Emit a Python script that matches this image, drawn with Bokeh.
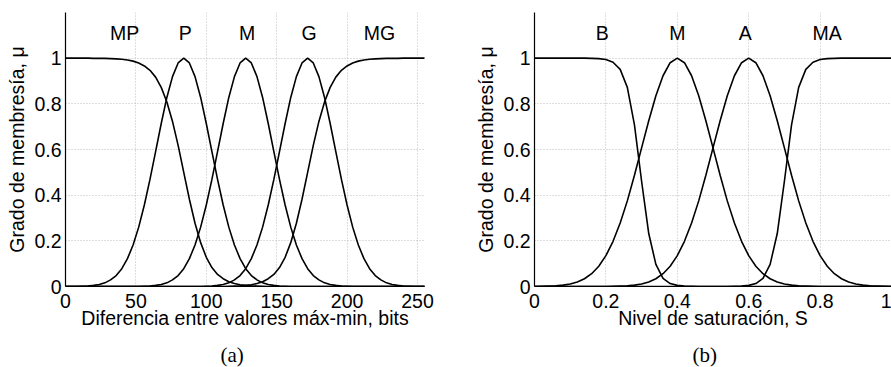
from bokeh.plotting import figure
from bokeh.models import Range1d, FixedTicker, Title
from bokeh.layouts import row
from bokeh.embed import file_html
from bokeh.resources import INLINE
from bokeh.core.properties import value

# ---------------- data: panel (a) ----------------
x_bits = [0, 4, 8, 12, 16, 20, 24, 28, 32, 36, 40, 44, 48, 52, 56, 60, 64, 68, 72, 76,
          80, 84, 88, 92, 96, 100, 104, 108, 112, 116, 120, 124, 128, 132, 136, 140, 144,
          148, 152, 156, 160, 164, 168, 172, 176, 180, 184, 188, 192, 196, 200, 204, 208,
          212, 216, 220, 224, 228, 232, 236, 240, 244, 248, 252, 256]

mu_MP = [1.000, 1.000, 1.000, 1.000, 1.000, 0.999, 0.999, 0.999, 0.998, 0.997, 0.995, 0.992,
         0.987, 0.979, 0.966, 0.947, 0.917, 0.872, 0.808, 0.723, 0.618, 0.500, 0.382, 0.277,
         0.192, 0.128, 0.083, 0.053, 0.034, 0.021, 0.013, 0.008, 0.005, 0.003, 0.002, 0.001,
         0, 0, 0, 0, 0, 0, 0, 0, 0, 0, 0, 0, 0, 0, 0, 0, 0, 0, 0, 0, 0, 0, 0, 0, 0, 0, 0, 0, 0]

mu_P = [0, 0, 0, 0.001, 0.002, 0.005, 0.009, 0.016, 0.029, 0.048, 0.078, 0.122, 0.182, 0.260,
        0.357, 0.469, 0.591, 0.714, 0.828, 0.919, 0.979, 1.000, 0.979, 0.919, 0.828, 0.714,
        0.591, 0.469, 0.357, 0.260, 0.182, 0.122, 0.078, 0.048, 0.029, 0.016, 0.009, 0.005,
        0.002, 0.001, 0, 0, 0, 0, 0, 0, 0, 0, 0, 0, 0, 0, 0, 0, 0, 0, 0, 0, 0, 0, 0, 0, 0, 0, 0]

mu_M = [0, 0, 0, 0, 0, 0, 0, 0, 0, 0, 0, 0, 0, 0, 0.001, 0.002, 0.005, 0.009, 0.016, 0.029,
        0.048, 0.078, 0.122, 0.182, 0.260, 0.357, 0.469, 0.591, 0.714, 0.828, 0.919, 0.979,
        1.000, 0.979, 0.919, 0.828, 0.714, 0.591, 0.469, 0.357, 0.260, 0.182, 0.122, 0.078,
        0.048, 0.029, 0.016, 0.009, 0.005, 0.002, 0.001, 0, 0, 0, 0, 0, 0, 0, 0, 0, 0, 0, 0, 0, 0]

mu_G = [0, 0, 0, 0, 0, 0, 0, 0, 0, 0, 0, 0, 0, 0, 0, 0, 0, 0, 0, 0, 0, 0, 0, 0, 0,
        0.001, 0.002, 0.005, 0.009, 0.016, 0.029, 0.048, 0.078, 0.122, 0.182, 0.260, 0.357,
        0.469, 0.591, 0.714, 0.828, 0.919, 0.979, 1.000, 0.979, 0.919, 0.828, 0.714, 0.591,
        0.469, 0.357, 0.260, 0.182, 0.122, 0.078, 0.048, 0.029, 0.016, 0.009, 0.005, 0.002,
        0.001, 0, 0, 0]

mu_MG = [0, 0, 0, 0, 0, 0, 0, 0, 0, 0, 0, 0, 0, 0, 0, 0, 0, 0, 0, 0, 0, 0, 0, 0, 0, 0, 0, 0, 0,
         0.001, 0.002, 0.003, 0.005, 0.008, 0.013, 0.021, 0.034, 0.053, 0.083, 0.128, 0.192,
         0.277, 0.382, 0.500, 0.618, 0.723, 0.808, 0.872, 0.917, 0.947, 0.966, 0.979, 0.987,
         0.992, 0.995, 0.997, 0.998, 0.999, 0.999, 0.999, 1.000, 1.000, 1.000, 1.000, 1.000]

terms_a = ["MP", "P", "M", "G", "MG"]
terms_a_x = [42, 85, 129, 173, 223]
ticks_a_x = [0, 50, 100, 150, 200, 250]

# ---------------- data: panel (b) ----------------
x_sat = [0.00, 0.02, 0.04, 0.06, 0.08, 0.10, 0.12, 0.14, 0.16, 0.18, 0.20, 0.22, 0.24, 0.26,
         0.28, 0.30, 0.32, 0.34, 0.36, 0.38, 0.40, 0.42, 0.44, 0.46, 0.48, 0.50, 0.52, 0.54,
         0.56, 0.58, 0.60, 0.62, 0.64, 0.66, 0.68, 0.70, 0.72, 0.74, 0.76, 0.78, 0.80, 0.82,
         0.84, 0.86, 0.88, 0.90, 0.92, 0.94, 0.96, 0.98, 1.00]

mu_B = [1.000, 1.000, 1.000, 1.000, 1.000, 1.000, 1.000, 1.000, 0.999, 0.998, 0.994, 0.982,
        0.951, 0.872, 0.708, 0.461, 0.232, 0.097, 0.036, 0.013, 0.005, 0.002, 0.001,
        0, 0, 0, 0, 0, 0, 0, 0, 0, 0, 0, 0, 0, 0, 0, 0, 0, 0, 0, 0, 0, 0, 0, 0, 0, 0, 0, 0]

mu_Mb = [0.000, 0.001, 0.002, 0.003, 0.006, 0.011, 0.020, 0.034, 0.056, 0.089, 0.135, 0.198,
         0.278, 0.375, 0.487, 0.607, 0.726, 0.835, 0.923, 0.980, 1.000, 0.980, 0.923, 0.835,
         0.726, 0.607, 0.487, 0.375, 0.278, 0.198, 0.135, 0.089, 0.056, 0.034, 0.020, 0.011,
         0.006, 0.003, 0.002, 0.001, 0.000, 0, 0, 0, 0, 0, 0, 0, 0, 0, 0]

mu_A = [0, 0, 0, 0, 0, 0, 0, 0, 0, 0, 0.000, 0.001, 0.002, 0.003, 0.006, 0.011, 0.020, 0.034,
        0.056, 0.089, 0.135, 0.198, 0.278, 0.375, 0.487, 0.607, 0.726, 0.835, 0.923, 0.980,
        1.000, 0.980, 0.923, 0.835, 0.726, 0.607, 0.487, 0.375, 0.278, 0.198, 0.135, 0.089,
        0.056, 0.034, 0.020, 0.011, 0.006, 0.003, 0.002, 0.001, 0.000]

mu_MA = [0, 0, 0, 0, 0, 0, 0, 0, 0, 0, 0, 0, 0, 0, 0, 0, 0, 0, 0, 0, 0, 0, 0, 0, 0, 0, 0, 0,
         0.001, 0.002, 0.005, 0.013, 0.036, 0.097, 0.232, 0.461, 0.708, 0.872, 0.951, 0.982,
         0.994, 0.998, 0.999, 1.000, 1.000, 1.000, 1.000, 1.000, 1.000, 1.000, 1.000]

terms_b = ["B", "M", "A", "MA"]
terms_b_x = [0.19, 0.40, 0.59, 0.82]
ticks_b_x = [0, 0.2, 0.4, 0.6, 0.8, 1]

ticks_y = [0, 0.2, 0.4, 0.6, 0.8, 1]
term_y = 1.11

FONT = "Liberation Sans"
FS = "19.5px"


def style(p, xticks, xlabel, ylabel, caption, cap_offset):
    p.outline_line_color = None
    p.xaxis.ticker = FixedTicker(ticks=xticks)
    p.yaxis.ticker = FixedTicker(ticks=ticks_y)
    p.xgrid.ticker = FixedTicker(ticks=xticks)
    p.ygrid.ticker = FixedTicker(ticks=ticks_y)
    p.xaxis.major_label_overrides = {t: ("%g" % t) for t in xticks}
    p.yaxis.major_label_overrides = {t: ("%g" % t) for t in ticks_y}
    for ax in (p.xaxis, p.yaxis):
        ax.major_tick_line_color = None
        ax.minor_tick_line_color = None
        ax.major_tick_out = 0
        ax.major_tick_in = 0
        ax.minor_tick_out = 0
        ax.minor_tick_in = 0
        ax.axis_line_color = "black"
        ax.axis_line_width = 1.2
        ax.major_label_text_font = FONT
        ax.major_label_text_font_size = FS
        ax.major_label_text_color = "black"
        ax.axis_label_text_font = FONT
        ax.axis_label_text_font_size = FS
        ax.axis_label_text_font_style = "normal"
        ax.axis_label_text_color = "black"
    p.xaxis.axis_label = xlabel
    p.yaxis.axis_label = ylabel
    p.xaxis.major_label_standoff = 7
    p.xaxis.axis_label_standoff = -4
    p.yaxis.major_label_standoff = 4
    p.yaxis.axis_label_standoff = 3
    for g in (p.xgrid, p.ygrid):
        g.grid_line_color = "#bdbdbd"
        g.grid_line_dash = "1 2"
        g.grid_line_width = 1
    p.add_layout(Title(text=caption, align="left", offset=cap_offset, standoff=19,
                       text_font="Liberation Serif", text_font_size="21px",
                       text_font_style="normal", text_color="black"), "below")


p1 = figure(frame_width=359, frame_height=274, x_range=Range1d(0, 255), y_range=Range1d(0, 1.2),
            min_border_left=65, min_border_right=16, min_border_top=12, min_border_bottom=0,
            output_backend="svg", toolbar_location=None)
style(p1, ticks_a_x, "Diferencia entre valores máx-min, bits", "Grado de membresía, μ", "(a)", 155)
for ys in (mu_MP, mu_P, mu_M, mu_G, mu_MG):
    p1.line(x_bits, ys, line_color="black", line_width=1.6)
p1.text(x=terms_a_x, y=[term_y] * len(terms_a), text=terms_a, text_font=value(FONT),
        text_font_size=value(FS), text_align="center", text_baseline="middle", text_color="black")

p2 = figure(frame_width=357, frame_height=274, x_range=Range1d(0, 1), y_range=Range1d(0, 1.2),
            min_border_left=94, min_border_right=0, min_border_top=12, min_border_bottom=0,
            output_backend="svg", toolbar_location=None)
style(p2, ticks_b_x, "Nivel de saturación, S", "Grado de membresía, μ", "(b)", 158)
for ys in (mu_B, mu_Mb, mu_A, mu_MA):
    p2.line(x_sat, ys, line_color="black", line_width=1.6)
p2.text(x=terms_b_x, y=[term_y] * len(terms_b), text=terms_b, text_font=value(FONT),
        text_font_size=value(FS), text_align="center", text_baseline="middle", text_color="black")

layout = row(p1, p2)
open("out.html", "w").write(file_html(layout, INLINE))
